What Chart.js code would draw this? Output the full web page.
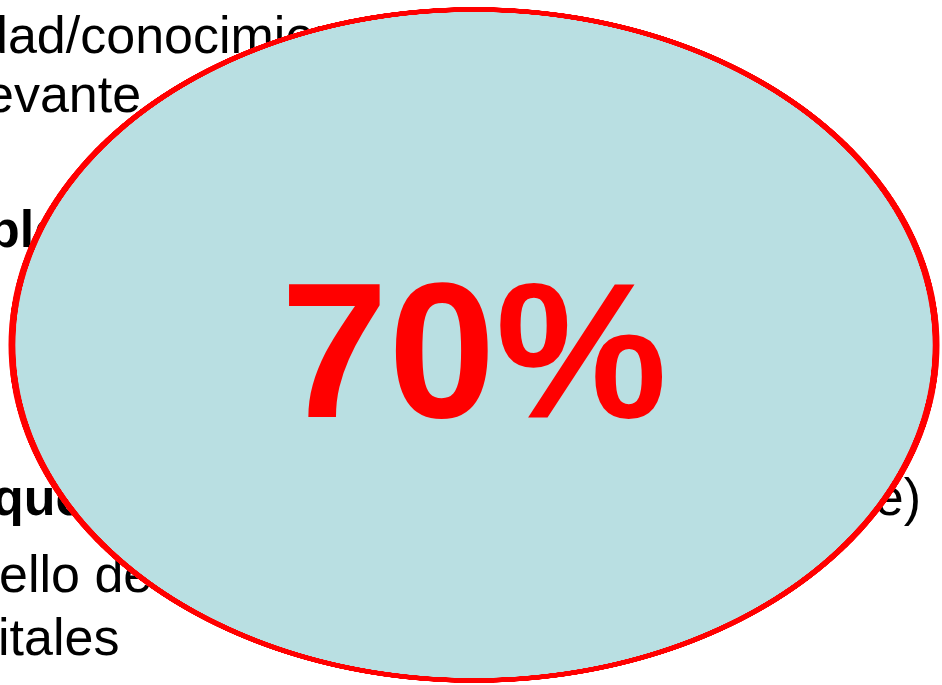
<!DOCTYPE html>
<html lang="es">
<head>
<meta charset="utf-8">
<title>70%</title>
<script src="https://cdn.jsdelivr.net/npm/chart.js@4.4.1/dist/chart.umd.min.js"></script>
<style>
    html, body { margin: 0; padding: 0; background: #fff; }
    body { width: 942px; height: 685px; position: relative; overflow: hidden;
           font-family: 'Liberation Sans', Arial, sans-serif; }
    .ln { position: absolute; white-space: nowrap; font-size: 52px; line-height: 1; color: #000; }
    .ln .pre { position: absolute; right: 100%; top: 0; }
    .b { font-weight: bold; }
    #ellipse { position: absolute; left: 136px; top: 7px; width: 676px; height: 676px;
               transform: scaleX(1.3772); transform-origin: 50% 50%; z-index: 2; }
    #pct { position: absolute; left: 0; top: 254px; width: 948px; text-align: center;
           font-size: 193px; font-weight: bold; line-height: 1; color: #ff0000; z-index: 3; }
</style>
</head>
<body>
    <!-- slide text behind the ellipse -->
    <div class="ln" style="left:-21px;top:9px"><span class="pre">Capaci</span>dad/conocimiento</div>
    <div class="ln" style="left:-15px;top:68px"><span class="pre">rel</span>evante</div>
    <div class="ln b" style="left:-12px;top:203px"><span class="pre">Pro</span>blemas</div>
    <div class="ln b" style="left:-8px;top:471px"><span class="pre">Blo</span>ques</div>
    <div class="ln" style="right:21px;top:471px">(hardware y software)</div>
    <div class="ln" style="left:-1px;top:548px"><span class="pre">Cu</span>ello de botella</div>
    <div class="ln" style="left:-2px;top:611px"><span class="pre">dig</span>itales</div>

    <div id="ellipse"><canvas id="ellipseChart"></canvas></div>
    <div id="pct"></div>

<script>
const categories = ['Sí'];
const values = [70];
const unit = '%';

document.addEventListener('DOMContentLoaded', () => {
    Chart.defaults.font.family = "'Liberation Sans', Arial, sans-serif";

    // big label in the middle
    document.getElementById('pct').innerText = `${values[0]}${unit}`;

    const ctx = document.getElementById('ellipseChart').getContext('2d');
    new Chart(ctx, {
        type: 'doughnut',
        data: {
            labels: categories,
            datasets: [{
                // thin red outline ring
                data: values,
                backgroundColor: '#ff0000',
                borderWidth: 0,
                weight: 5.0
            }, {
                // light blue body
                data: values,
                backgroundColor: '#b9dfe2',
                borderColor: '#b9dfe2',
                borderWidth: 1,
                weight: 332.5
            }]
        },
        options: {
            responsive: true,
            maintainAspectRatio: false,
            devicePixelRatio: 3,
            animation: false,
            events: [],
            cutout: 0,
            layout: { padding: 0 },
            plugins: { legend: { display: false }, tooltip: { enabled: false } }
        }
    });
});
</script>
</body>
</html>
